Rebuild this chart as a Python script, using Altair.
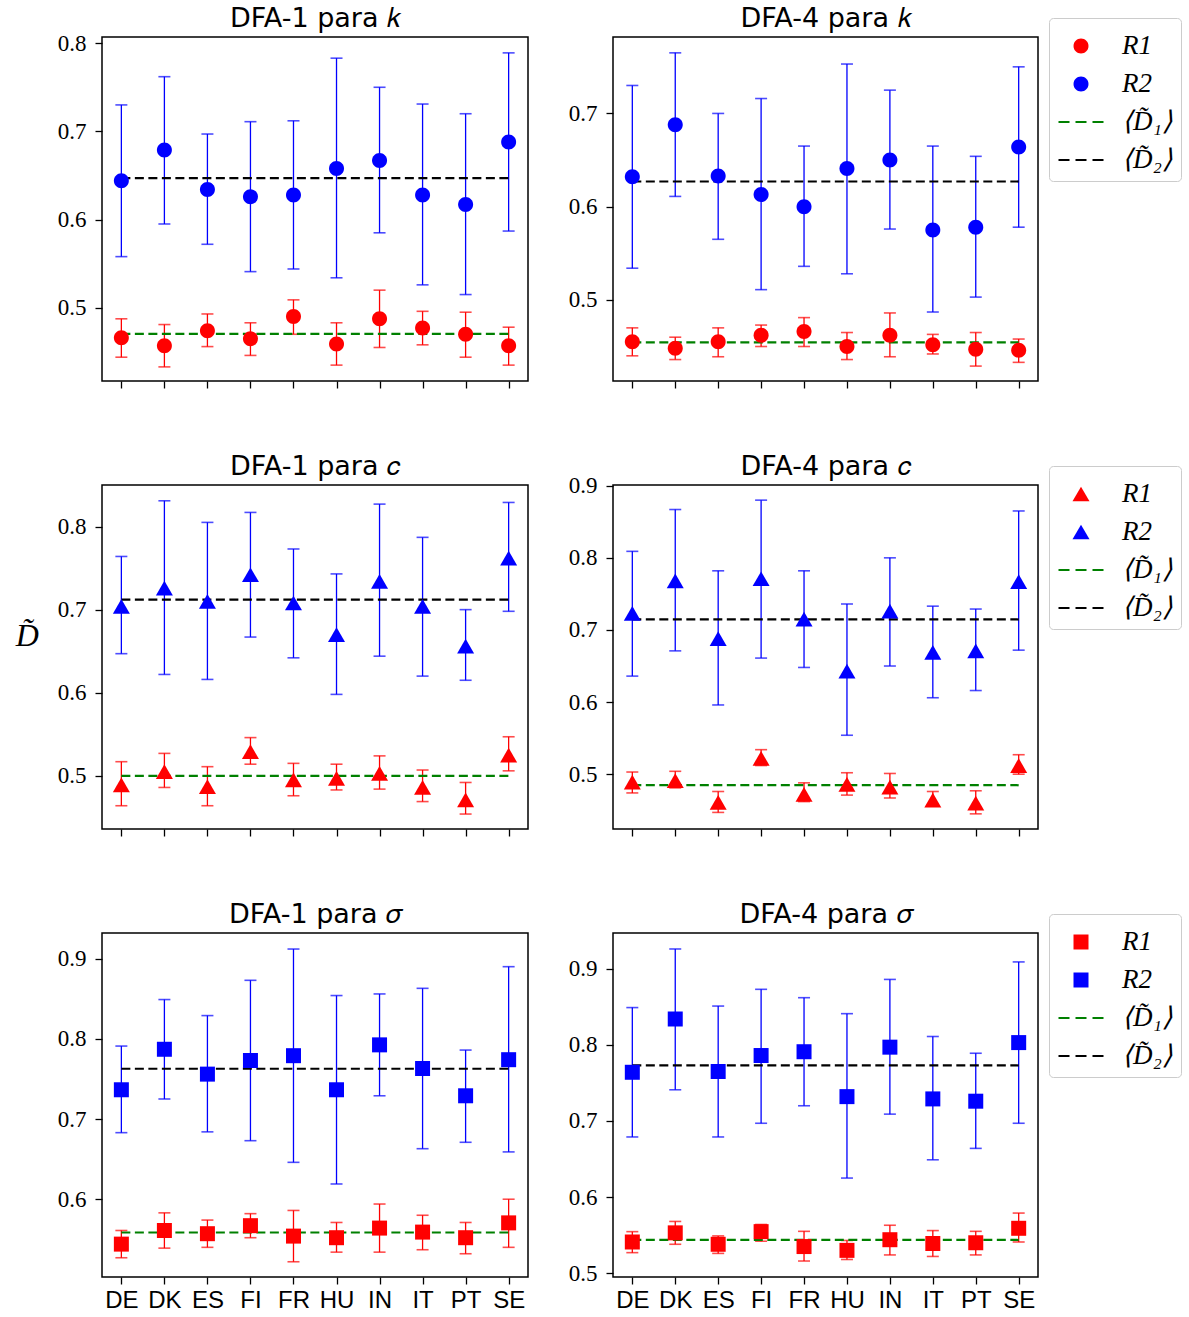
import json
import altair as alt
import pandas as pd

COUNTRIES = ["DE", "DK", "ES", "FI", "FR", "HU", "IN", "IT", "PT", "SE"]
SERIES = ["R1", "R2", "⟨D̃₁⟩", "⟨D̃₂⟩"]
COLORS = ["#ff0000", "#0000ff", "#008000", "#000000"]

# ---- DFA-1 para k ----
K1_R1 = [0.466, 0.457, 0.474, 0.465, 0.490, 0.459, 0.4875, 0.477, 0.470, 0.457]
K1_R1_HI = [0.4875, 0.481, 0.493, 0.483, 0.509, 0.483, 0.520, 0.496, 0.495, 0.478]
K1_R1_LO = [0.444, 0.433, 0.456, 0.446, 0.470, 0.435, 0.455, 0.458, 0.444, 0.435]
K1_R2 = [0.644, 0.679, 0.634, 0.626, 0.628, 0.658, 0.667, 0.628, 0.617, 0.688]
K1_R2_HI = [0.730, 0.762, 0.697, 0.711, 0.712, 0.783, 0.750, 0.731, 0.720, 0.789]
K1_R2_LO = [0.558, 0.595, 0.572, 0.541, 0.544, 0.534, 0.585, 0.526, 0.515, 0.587]
K1_MEANS = [0.4705, 0.647]

# ---- DFA-4 para k ----
K4_R1 = [0.455, 0.448, 0.455, 0.462, 0.466, 0.450, 0.462, 0.452, 0.447, 0.446]
K4_R1_HI = [0.470, 0.460, 0.470, 0.473, 0.481, 0.465, 0.486, 0.463, 0.465, 0.458]
K4_R1_LO = [0.440, 0.436, 0.439, 0.450, 0.450, 0.436, 0.439, 0.442, 0.429, 0.433]
K4_R2 = [0.632, 0.688, 0.633, 0.613, 0.600, 0.641, 0.650, 0.575, 0.578, 0.664]
K4_R2_HI = [0.730, 0.765, 0.700, 0.716, 0.665, 0.753, 0.725, 0.665, 0.654, 0.750]
K4_R2_LO = [0.534, 0.611, 0.565, 0.511, 0.536, 0.528, 0.576, 0.487, 0.503, 0.578]
K4_MEANS = [0.4545, 0.627]

# ---- DFA-1 para c ----
C1_R1 = [0.489, 0.505, 0.487, 0.529, 0.495, 0.497, 0.503, 0.486, 0.471, 0.525]
C1_R1_HI = [0.517, 0.527, 0.511, 0.546, 0.515, 0.514, 0.524, 0.507, 0.492, 0.547]
C1_R1_LO = [0.464, 0.486, 0.464, 0.514, 0.476, 0.483, 0.484, 0.469, 0.454, 0.506]
C1_R2 = [0.704, 0.726, 0.710, 0.742, 0.708, 0.670, 0.734, 0.704, 0.656, 0.762]
C1_R2_HI = [0.764, 0.831, 0.805, 0.817, 0.773, 0.743, 0.827, 0.787, 0.700, 0.829]
C1_R2_LO = [0.647, 0.622, 0.616, 0.667, 0.642, 0.598, 0.644, 0.620, 0.615, 0.698]
C1_MEANS = [0.500, 0.712]

# ---- DFA-4 para c ----
C4_R1 = [0.489, 0.491, 0.461, 0.522, 0.472, 0.486, 0.482, 0.464, 0.460, 0.512]
C4_R1_HI = [0.503, 0.504, 0.476, 0.534, 0.488, 0.502, 0.501, 0.476, 0.477, 0.527]
C4_R1_LO = [0.474, 0.481, 0.447, 0.512, 0.462, 0.471, 0.467, 0.456, 0.445, 0.500]
C4_R2 = [0.723, 0.768, 0.688, 0.771, 0.715, 0.643, 0.726, 0.669, 0.671, 0.767]
C4_R2_HI = [0.809, 0.867, 0.782, 0.880, 0.782, 0.736, 0.800, 0.733, 0.729, 0.865]
C4_R2_LO = [0.636, 0.671, 0.596, 0.661, 0.648, 0.554, 0.650, 0.606, 0.616, 0.672]
C4_MEANS = [0.4847, 0.7146]

# ---- DFA-1 para sigma ----
S1_R1 = [0.544, 0.561, 0.557, 0.567, 0.554, 0.552, 0.564, 0.559, 0.552, 0.5705]
S1_R1_HI = [0.561, 0.583, 0.574, 0.582, 0.586, 0.571, 0.594, 0.580, 0.571, 0.600]
S1_R1_LO = [0.527, 0.539, 0.540, 0.552, 0.522, 0.534, 0.534, 0.537, 0.532, 0.540]
S1_R2 = [0.7365, 0.787, 0.756, 0.773, 0.779, 0.7365, 0.7925, 0.763, 0.729, 0.774]
S1_R2_HI = [0.791, 0.849, 0.829, 0.873, 0.912, 0.854, 0.856, 0.863, 0.786, 0.890]
S1_R2_LO = [0.683, 0.725, 0.684, 0.673, 0.646, 0.619, 0.729, 0.663, 0.671, 0.659]
S1_MEANS = [0.5585, 0.7627]

# ---- DFA-4 para sigma ----
S4_R1 = [0.541, 0.553, 0.538, 0.5546, 0.535, 0.530, 0.544, 0.539, 0.540, 0.559]
S4_R1_HI = [0.5546, 0.568, 0.549, 0.564, 0.555, 0.543, 0.563, 0.556, 0.555, 0.579]
S4_R1_LO = [0.527, 0.538, 0.526, 0.542, 0.516, 0.518, 0.524, 0.522, 0.524, 0.541]
S4_R2 = [0.764, 0.834, 0.765, 0.786, 0.791, 0.732, 0.797, 0.729, 0.726, 0.803]
S4_R2_HI = [0.849, 0.926, 0.851, 0.873, 0.862, 0.841, 0.886, 0.811, 0.789, 0.909]
S4_R2_LO = [0.679, 0.741, 0.679, 0.697, 0.720, 0.625, 0.709, 0.649, 0.664, 0.697]
S4_MEANS = [0.5437, 0.773]

# axis limits and tick labels
YDOM = {"k1": [0.417, 0.807], "k4": [0.413, 0.782], "c1": [0.436, 0.850],
        "c4": [0.424, 0.901], "s1": [0.503, 0.932], "s4": [0.495, 0.947]}
YTICKS = {"k1": [0.5, 0.6, 0.7, 0.8], "k4": [0.5, 0.6, 0.7], "c1": [0.5, 0.6, 0.7, 0.8],
          "c4": [0.5, 0.6, 0.7, 0.8, 0.9], "s1": [0.6, 0.7, 0.8, 0.9], "s4": [0.5, 0.6, 0.7, 0.8, 0.9]}

# marker shapes (custom paths, drawn at size 1600 -> 20 px per unit)
CIRCLE = "M0.375,0A0.375,0.375,0,1,1,-0.375,0A0.375,0.375,0,1,1,0.375,0Z"
TRIANGLE = "M0,-0.368L0.425,0.368L-0.425,0.368Z"
SQUARE = "M-0.375,-0.375H0.375V0.375H-0.375Z"
DASH = ("M-1.125,-0.055H-0.575V0.055H-1.125Z M-0.275,-0.055H0.275V0.055H-0.275Z "
        "M0.575,-0.055H1.125V0.055H0.575Z")

LABEL_EXPR = json.dumps(COUNTRIES) + "[datum.value]"
PW_L, PW_R, PH = 426, 425, 344


def panel(title, key, r1, r1lo, r1hi, r2, r2lo, r2hi, means, marker,
          legend, xlabels, ytitle, width):
    n = len(COUNTRIES)
    idx = list(range(n))
    df = pd.DataFrame({
        "idx": idx * 2,
        "series": [SERIES[0]] * n + [SERIES[1]] * n,
        "value": r1 + r2,
        "lo": r1lo + r2lo,
        "hi": r1hi + r2hi,
    })
    mdf = pd.DataFrame({"x0": [0, 0], "x1": [n - 1, n - 1], "mean": means,
                        "series": SERIES[2:]})
    xscale = alt.Scale(domain=[-0.45, n - 1 + 0.45], nice=False, zero=False)
    yscale = alt.Scale(domain=YDOM[key], nice=False, zero=False)
    xaxis = alt.Axis(values=idx, labelExpr=LABEL_EXPR, labels=xlabels, title=None,
                     grid=False, domain=False)
    topaxis = alt.Axis(orient="top", title=title, labels=False, ticks=False,
                       domain=False, grid=False, titleFont="DejaVu Sans",
                       titleFontSize=27, titleFontWeight="normal", titleColor="black",
                       titlePadding=5)
    if ytitle:
        yaxis = alt.Axis(values=YTICKS[key], format=".1f", grid=False, domain=False,
                         title=ytitle, titleAngle=0, titleAlign="right",
                         titleBaseline="middle", titleFont="Liberation Serif",
                         titleFontStyle="italic", titleFontWeight="normal",
                         titleFontSize=32, titlePadding=19, titleColor="black",
                         titleY=150)
    else:
        yaxis = alt.Axis(values=YTICKS[key], format=".1f", grid=False, domain=False,
                         title=None)

    def X(f, ax=xaxis):
        return alt.X(f, type="quantitative", scale=xscale, axis=ax)

    def Y(f):
        return alt.Y(f, type="quantitative", scale=yscale, axis=yaxis)

    base = alt.Chart(df)
    layers = []
    for s, col in zip(SERIES[:2], COLORS[:2]):
        b = base.transform_filter(alt.datum.series == s)
        layers.append(b.mark_rule(color=col, strokeWidth=1.3).encode(
            x=X("idx"), y=Y("lo"), y2="hi:Q"))
        layers.append(b.mark_tick(color=col, orient="horizontal", size=12,
                                  thickness=1.6).encode(x=X("idx"), y=Y("lo")))
        layers.append(b.mark_tick(color=col, orient="horizontal", size=12,
                                  thickness=1.6).encode(x=X("idx"), y=Y("hi")))
    mbase = alt.Chart(mdf)
    for s, col in zip(SERIES[2:], COLORS[2:]):
        layers.append(mbase.transform_filter(alt.datum.series == s).mark_rule(
            color=col, strokeWidth=2.2, strokeDash=[9, 4.5]).encode(
            x=X("x0"), x2="x1:Q", y=Y("mean")))
    if legend:
        leg = alt.Legend(title=None, orient="none", legendX=PW_R + 11, legendY=-19,
                         padding=8, symbolOffset=4, labelOffset=21, rowPadding=5,
                         strokeColor="#cccccc", cornerRadius=4, fillColor="white",
                         labelFont="Liberation Serif", labelFontStyle="italic",
                         labelFontSize=27, labelColor="black", symbolSize=1600,
                         symbolStrokeWidth=0, symbolOpacity=1)
    else:
        leg = None
    layers.append(base.mark_point(filled=True, opacity=1, size=1600).encode(
        x=X("idx"), y=Y("value"),
        color=alt.Color("series:N", scale=alt.Scale(domain=SERIES, range=COLORS),
                        legend=leg),
        shape=alt.Shape("series:N",
                        scale=alt.Scale(domain=SERIES, range=[marker, marker, DASH, DASH]),
                        legend=leg),
    ))
    # invisible layer carrying the panel title on a top axis
    title_layer = mbase.mark_rule(strokeOpacity=0).encode(
        x=X("x0", topaxis), x2="x1:Q", y=Y("mean"))
    return alt.layer(alt.layer(*layers), title_layer).resolve_scale(
        x="independent").properties(width=width, height=PH)


panels = [
    panel("DFA-1 para 𝑘", "k1", K1_R1, K1_R1_LO, K1_R1_HI, K1_R2, K1_R2_LO, K1_R2_HI,
          K1_MEANS, CIRCLE, False, False, None, PW_L),
    panel("DFA-4 para 𝑘", "k4", K4_R1, K4_R1_LO, K4_R1_HI, K4_R2, K4_R2_LO, K4_R2_HI,
          K4_MEANS, CIRCLE, True, False, None, PW_R),
    panel("DFA-1 para 𝑐", "c1", C1_R1, C1_R1_LO, C1_R1_HI, C1_R2, C1_R2_LO, C1_R2_HI,
          C1_MEANS, TRIANGLE, False, False, "D̃", PW_L),
    panel("DFA-4 para 𝑐", "c4", C4_R1, C4_R1_LO, C4_R1_HI, C4_R2, C4_R2_LO, C4_R2_HI,
          C4_MEANS, TRIANGLE, True, False, None, PW_R),
    panel("DFA-1 para 𝜎", "s1", S1_R1, S1_R1_LO, S1_R1_HI, S1_R2, S1_R2_LO, S1_R2_HI,
          S1_MEANS, SQUARE, False, True, None, PW_L),
    panel("DFA-4 para 𝜎", "s4", S4_R1, S4_R1_LO, S4_R1_HI, S4_R2, S4_R2_LO, S4_R2_HI,
          S4_MEANS, SQUARE, True, True, None, PW_R),
]

chart = alt.concat(*panels, columns=2, spacing={"row": 61, "column": 38}, align="each").resolve_scale(
    color="independent", shape="independent", x="independent", y="independent"
).resolve_legend(color="independent", shape="independent").properties(
    padding={"left": 14, "top": 3, "right": 0, "bottom": 0}, background="white"
).configure_view(
    stroke="black", strokeWidth=1.5
).configure_axis(
    tickColor="black", tickWidth=1.3, tickSize=7, labelColor="black", labelPadding=9
).configure_axisX(
    labelFont="Liberation Sans", labelFontSize=24, labelPadding=4
).configure_axisY(
    labelFont="Liberation Serif", labelFontSize=23
)

chart.save("out.html", embed_options={"renderer": "svg", "actions": False})
